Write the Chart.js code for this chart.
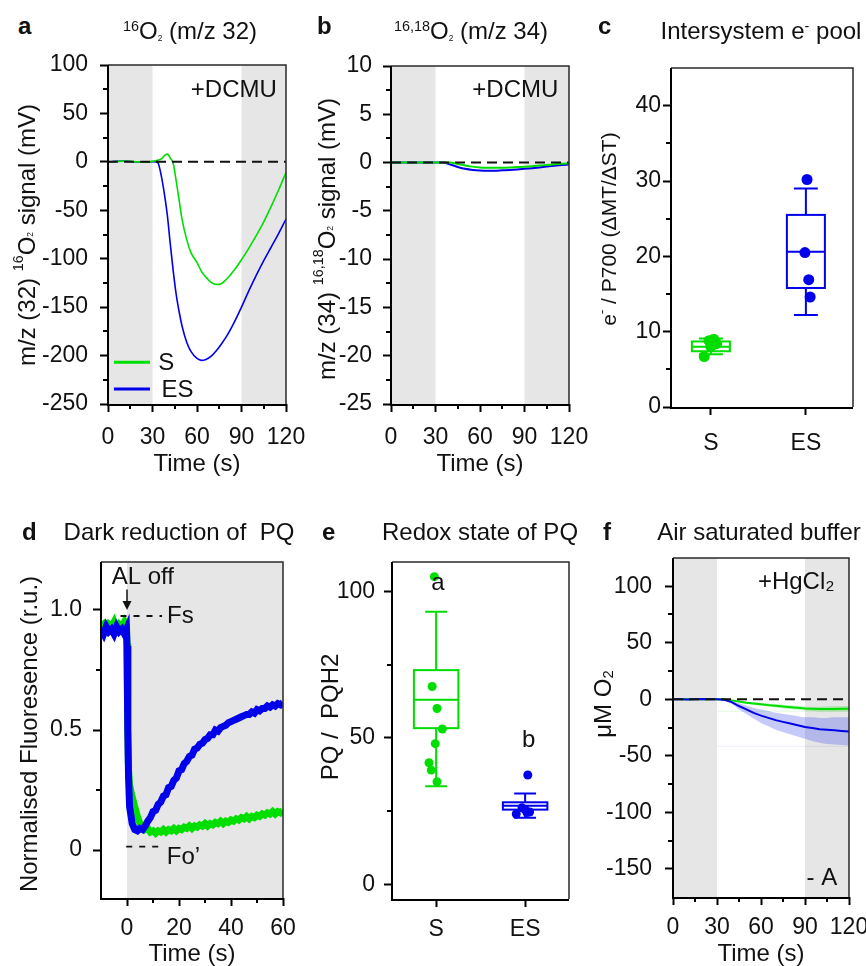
<!DOCTYPE html>
<html>
<head>
<meta charset="utf-8">
<title>PQ pool figure</title>
<script src="https://cdn.jsdelivr.net/npm/chart.js@4.4.1/dist/chart.umd.min.js"></script>
<style>
  html, body { margin: 0; padding: 0; background: #fff; overflow: hidden; }
  #fig { position: relative; width: 866px; height: 966px; font-family: "Liberation Sans", Arial, sans-serif; color: #111; }
  #fig canvas { position: absolute; }
  .letter { position: absolute; font-weight: bold; font-size: 24px; line-height: 28px; }
  .title { position: absolute; font-size: 24px; line-height: 28px; white-space: nowrap; transform: translateX(-50%); }
  .title .sup { font-size: 0.6em; vertical-align: 0.55em; }
  .title .tiny { font-size: 0.35em; vertical-align: -0.2em; }
</style>
</head>
<body>
<div id="fig">
  <canvas id="pa" width="320" height="440" style="left:0;top:40px"></canvas>
  <canvas id="pb" width="300" height="440" style="left:290px;top:40px"></canvas>
  <canvas id="pc" width="286" height="440" style="left:580px;top:40px"></canvas>
  <canvas id="pd" width="310" height="450" style="left:0;top:520px"></canvas>
  <canvas id="pe" width="290" height="450" style="left:290px;top:520px"></canvas>
  <canvas id="pf" width="286" height="450" style="left:580px;top:520px"></canvas>

  <div class="letter" style="left:18px;top:12px">a</div>
  <div class="title" style="left:190px;top:12px"><span class="sup">16</span>O<span class="tiny">2</span> (m/z 32)</div>
  <div class="letter" style="left:317px;top:12px">b</div>
  <div class="title" style="left:471px;top:12px"><span class="sup">16,18</span>O<span class="tiny">2</span> (m/z 34)</div>
  <div class="letter" style="left:598px;top:12px">c</div>
  <div class="title" style="left:761px;top:12px">Intersystem e<span class="sup">-</span> pool</div>
  <div class="letter" style="left:22px;top:518px">d</div>
  <div class="title" style="left:179px;top:518px">Dark reduction of&nbsp; PQ</div>
  <div class="letter" style="left:322px;top:518px">e</div>
  <div class="title" style="left:480px;top:518px">Redox state of PQ</div>
  <div class="letter" style="left:603px;top:518px">f</div>
  <div class="title" style="left:759px;top:518px">Air saturated buffer</div>
</div>

<script>
// ---------- a: 16O2 (m/z 32), mV ----------
const aTime = [0, 5, 10, 15, 20, 25, 30, 33, 34, 36, 38, 40, 42, 44, 46, 48, 50, 53, 56, 60, 63, 66, 70, 73, 76, 80, 85, 90, 95, 100, 105, 110, 115, 120];
const aS    = [0, 0.3, 0.8, 0.5, 0, -0.3, 0.5, 1.5, 2, 3, 6.5, 8, 4, -2, -20, -40, -60, -80, -94, -104, -113, -119, -125, -126.5, -126, -121, -112, -101, -89, -76, -62, -46, -29, -11];
const aES   = [0, 0.5, 0.8, 0.3, -0.2, -0.4, 0.2, 0, -2, -15, -33, -55, -85, -113, -137, -155, -170, -186, -196, -203, -205, -204, -200, -195, -189, -180, -166, -150, -133, -117, -102, -88, -74, -59];

// ---------- b: 16,18O2 (m/z 34), mV ----------
const bTime = [0, 10, 20, 30, 35, 40, 45, 50, 55, 60, 65, 70, 75, 80, 85, 90, 95, 100, 105, 110, 115, 120];
const bS    = [0, 0, 0, 0, 0, 0, -0.15, -0.3, -0.42, -0.5, -0.53, -0.54, -0.53, -0.5, -0.46, -0.42, -0.37, -0.31, -0.25, -0.18, -0.12, -0.07];
const bES   = [0, 0, 0, 0, 0, -0.2, -0.45, -0.65, -0.77, -0.83, -0.85, -0.84, -0.8, -0.76, -0.71, -0.65, -0.58, -0.5, -0.42, -0.34, -0.26, -0.19];

// ---------- c: intersystem e- pool ----------
const cCats   = ['S', 'ES'];
const cPtsS   = [6.7, 8.8, 9.0, 8.4, 8.0];
const cPtsES  = [30.2, 20.5, 16.9, 14.6];
const cLow    = [7.0, 12.2];
const cQ1     = [7.4, 15.8];
const cMed    = [8.0, 20.6];
const cQ3     = [8.7, 25.5];
const cHigh   = [9.1, 29.0];

// ---------- d: dark reduction of PQ ----------
const dTime = [-10, -9, -8, -7, -6, -5, -4, -3, -2, -1, -0.2, 0, 0.3, 0.6, 1, 2, 3, 4, 5, 6, 7, 8, 9, 10,
  11, 12, 13, 14, 15, 16, 17, 18, 19, 20, 21, 22, 23, 24, 25, 26, 27, 28, 29, 30,
  31, 32, 33, 34, 35, 36, 37, 38, 39, 40, 41, 42, 43, 44, 45, 46, 47, 48, 49, 50,
  51, 52, 53, 54, 55, 56, 57, 58, 59, 60];
const dES = [0.92, 0.90, 0.93, 0.91, 0.92, 0.90, 0.93, 0.91, 0.92, 0.90, 0.92, 0.85, 0.5, 0.3, 0.18, 0.11, 0.085, 0.08, 0.09, 0.085, 0.1, 0.12, 0.135, 0.16,
  0.165, 0.19, 0.2, 0.225, 0.23, 0.26, 0.265, 0.29, 0.3, 0.33, 0.335, 0.36, 0.37, 0.39, 0.395, 0.42, 0.425, 0.44, 0.445, 0.46,
  0.465, 0.48, 0.48, 0.5, 0.495, 0.51, 0.515, 0.52, 0.53, 0.535, 0.54, 0.545, 0.55, 0.555, 0.56, 0.565, 0.565, 0.575, 0.57, 0.585,
  0.58, 0.59, 0.59, 0.6, 0.595, 0.605, 0.6, 0.61, 0.605, 0.615];
const dS = [0.93, 0.94, 0.92, 0.94, 0.93, 0.95, 0.92, 0.94, 0.93, 0.95, 0.93, 0.86, 0.5, 0.33, 0.27, 0.22, 0.18, 0.14, 0.11, 0.1, 0.085, 0.09, 0.075, 0.08,
  0.07, 0.08, 0.075, 0.085, 0.075, 0.085, 0.08, 0.09, 0.08, 0.09, 0.085, 0.095, 0.09, 0.1, 0.09, 0.1, 0.095, 0.105, 0.1, 0.11,
  0.1, 0.11, 0.105, 0.115, 0.11, 0.12, 0.11, 0.12, 0.115, 0.125, 0.12, 0.13, 0.125, 0.135, 0.13, 0.14, 0.13, 0.14, 0.135, 0.145,
  0.14, 0.15, 0.145, 0.155, 0.15, 0.16, 0.15, 0.16, 0.155, 0.165];

// ---------- e: redox state of PQ ----------
const eCats  = ['S', 'ES'];
const ePtsS  = [105, 67.5, 60, 53, 48, 41.5, 39, 35];
const ePtsES = [37.3, 26.1, 25.5, 24.7, 24, 24.5];
const eLow   = [33.5, 22.7];
const eQ1    = [53.3, 25.5];
const eMed   = [63, 26.8];
const eQ3    = [73.1, 28];
const eHigh  = [93, 31];

// ---------- f: air saturated buffer, uM O2 ----------
const fTime = [0, 5, 10, 15, 20, 25, 30, 35, 40, 45, 50, 55, 60, 65, 70, 75, 80, 85, 90, 95, 100, 105, 110, 115, 120];
const fES   = [0, 0, -0.3, 0, 0.2, 0, 0, -0.5, -2.5, -6, -9, -12, -14.5, -16.5, -18.5, -20, -21.5, -23, -24.5, -25.5, -26.5, -27, -27.5, -28, -28.5];
const fESHi = [0, 0, 0, 0, 0, 0, 0, -0.3, -1.5, -3.5, -5.5, -7.5, -9, -10.5, -12, -13, -14, -15, -16, -16, -16.5, -16.5, -16, -16, -16];
const fESLo = [0, 0, -0.5, 0, 0, 0, 0, -1, -4, -9, -13, -17, -21, -24, -27, -29, -31, -33, -35, -37, -38.5, -39.5, -40, -40.5, -41];
const fS    = [0, 0, 0, 0, 0, 0, 0, -0.3, -1, -2, -3, -3.8, -4.5, -5.2, -5.8, -6.4, -7, -7.6, -8.2, -8.5, -8.7, -8.7, -8.6, -8.5, -8.4];
const fSHi  = [0, 0, 0, 0, 0, 0, 0, 0, -0.5, -1.2, -2, -2.6, -3.2, -3.8, -4.3, -4.8, -5.3, -5.8, -6.4, -6.6, -6.6, -6.5, -6.3, -6.1, -6];
const fSLo  = [0, 0, 0, 0, 0, 0, 0, -0.6, -1.5, -2.8, -4, -5, -5.8, -6.6, -7.3, -8, -8.7, -9.4, -10, -10.4, -10.8, -10.9, -10.9, -10.9, -10.8];
const fFaintTime = [30, 120];
const fFaintS    = [-10.6, -10.6];
const fFaintES   = [-41.6, -41.6];

// ---------- ticks ----------
const timeTicks  = [0, 30, 60, 90, 120];
const timeMinor  = [15, 45, 75, 105];
const aYTicks = [-250, -200, -150, -100, -50, 0, 50, 100];
const aYMinor = [-225, -175, -125, -75, -25, 25, 75];
const bYTicks = [-25, -20, -15, -10, -5, 0, 5, 10];
const bYMinor = [-22.5, -17.5, -12.5, -7.5, -2.5, 2.5, 7.5];
const cYTicks = [0, 10, 20, 30, 40];
const cYMinor = [5, 15, 25, 35];
const dXTicks = [0, 20, 40, 60];
const dXMinor = [10, 30, 50];
const dYTicks = [0, 0.5, 1.0];
const dYMinor = [0.25, 0.75];
const eYTicks = [0, 50, 100];
const eYMinor = [25, 75];
const fYTicks = [-150, -100, -50, 0, 50, 100];
const fYMinor = [-125, -75, -25, 25, 75];

// ---------- styling ----------
const FONT = '"Liberation Sans", Arial, Helvetica, sans-serif';
const INK = '#111';
const GREEN = 'rgb(0, 222, 0)';
const BLUE = 'rgb(0, 0, 235)';
const SHADE = '#e6e6e6';

Chart.defaults.font.family = FONT;
Chart.defaults.color = INK;

const pts = (xs, ys) => xs.map((x, i) => ({ x, y: ys[i] }));

function line(xs, ys, color, width, extra) {
  return Object.assign({
    data: pts(xs, ys), borderColor: color, borderWidth: width, pointRadius: 0,
    fill: false, clip: 0, cubicInterpolationMode: 'monotone'
  }, extra || {});
}

function axis(o) {
  return {
    type: 'linear', min: o.min, max: o.max,
    afterBuildTicks: s => { s.ticks = o.ticks.map(v => ({ value: v })); },
    afterFit: s => {
      if (s.isHorizontal()) s.height = o.size; else s.width = o.size;
      s.paddingLeft = s.paddingRight = s.paddingTop = s.paddingBottom = 0;
    },
    ticks: {
      autoSkip: false, maxRotation: 0, minRotation: 0, padding: o.pad, color: INK,
      font: { size: 23 }, callback: o.fmt || (v => String(v))
    },
    grid: { drawOnChartArea: false, drawTicks: true, tickLength: 8, tickWidth: 2, tickColor: '#000' },
    border: { display: false },
    title: o.title
      ? { display: true, text: o.title, color: INK, font: { size: 24 }, padding: { top: 0, bottom: o.titlePad || 0 } }
      : { display: false }
  };
}

function drawRich(ctx, segs, size, cx, cy) {
  const spec = { '': [1, 0], sup: [0.6, -0.38], tiny: [0.35, 0.1], low: [0.62, 0.22] };
  ctx.save();
  ctx.translate(cx, cy);
  ctx.rotate(-Math.PI / 2);
  ctx.textBaseline = 'middle';
  ctx.textAlign = 'left';
  ctx.fillStyle = INK;
  const parts = segs.map(([t, k]) => {
    const [f, dy] = spec[k || ''];
    ctx.font = (size * f) + 'px ' + FONT;
    return { t, f, dy, w: ctx.measureText(t).width };
  });
  let xx = -parts.reduce((s, p) => s + p.w, 0) / 2;
  parts.forEach(p => {
    ctx.font = (size * p.f) + 'px ' + FONT;
    ctx.fillText(p.t, xx, p.dy * size);
    xx += p.w;
  });
  ctx.restore();
}

function drawBox(ctx, x, y, b) {
  const cx = x.getPixelForValue(b.at);
  const hw = x.getPixelForValue(b.at + b.half) - cx;
  const cw = x.getPixelForValue(b.at + b.cap) - cx;
  const py = v => y.getPixelForValue(v);
  ctx.strokeStyle = b.color;
  ctx.lineWidth = 2;
  ctx.strokeRect(cx - hw, py(b.q3), 2 * hw, py(b.q1) - py(b.q3));
  ctx.beginPath();
  ctx.moveTo(cx - hw, py(b.med)); ctx.lineTo(cx + hw, py(b.med));
  ctx.moveTo(cx, py(b.q3)); ctx.lineTo(cx, py(b.high));
  ctx.moveTo(cx - cw, py(b.high)); ctx.lineTo(cx + cw, py(b.high));
  ctx.moveTo(cx, py(b.q1)); ctx.lineTo(cx, py(b.low));
  ctx.moveTo(cx - cw, py(b.low)); ctx.lineTo(cx + cw, py(b.low));
  ctx.stroke();
}

function deco(d) {
  return {
    id: 'deco',
    beforeDatasetsDraw(chart) {
      const { ctx, chartArea: ca, scales: { x, y } } = chart;
      ctx.save();
      ctx.fillStyle = SHADE;
      (d.shade || []).forEach(([a, b]) => {
        const x0 = Math.max(ca.left, x.getPixelForValue(a));
        const x1 = Math.min(ca.right, x.getPixelForValue(b));
        ctx.fillRect(x0, ca.top, x1 - x0, ca.bottom - ca.top);
      });
      (d.boxes || []).forEach(b => drawBox(ctx, x, y, b));
      ctx.restore();
    },
    afterDatasetsDraw(chart) {
      const { ctx, scales: { x, y } } = chart;
      ctx.save();
      ctx.strokeStyle = INK;
      (d.dashes || []).forEach(k => {
        ctx.lineWidth = k.width || 2;
        ctx.setLineDash(k.dash || [10, 6]);
        ctx.beginPath();
        ctx.moveTo(x.getPixelForValue(k.x0), y.getPixelForValue(k.y));
        ctx.lineTo(x.getPixelForValue(k.x1), y.getPixelForValue(k.y));
        ctx.stroke();
      });
      ctx.restore();
    },
    afterDraw(chart) {
      const { ctx, chartArea: ca, scales: { x, y } } = chart;
      ctx.save();
      // frame
      ctx.strokeStyle = '#2a2a2a'; ctx.lineWidth = 1.5;
      ctx.beginPath();
      ctx.moveTo(ca.left, ca.top); ctx.lineTo(ca.right, ca.top); ctx.lineTo(ca.right, ca.bottom);
      ctx.stroke();
      ctx.strokeStyle = '#000'; ctx.lineWidth = 2;
      ctx.beginPath();
      ctx.moveTo(ca.left, ca.top); ctx.lineTo(ca.left, ca.bottom + 1); ctx.lineTo(ca.right, ca.bottom + 1);
      ctx.stroke();
      // minor ticks
      ctx.beginPath();
      (d.minorX || []).forEach(v => {
        const px = Math.round(x.getPixelForValue(v));
        ctx.moveTo(px, ca.bottom); ctx.lineTo(px, ca.bottom + 5);
      });
      (d.minorY || []).forEach(v => {
        const py = Math.round(y.getPixelForValue(v));
        ctx.moveTo(ca.left - 5, py); ctx.lineTo(ca.left, py);
      });
      ctx.stroke();
      // key lines
      (d.keys || []).forEach(k => {
        ctx.strokeStyle = k.color; ctx.lineWidth = 3;
        ctx.beginPath();
        ctx.moveTo(x.getPixelForValue(k.x0), y.getPixelForValue(k.y));
        ctx.lineTo(x.getPixelForValue(k.x1), y.getPixelForValue(k.y));
        ctx.stroke();
      });
      // arrow
      if (d.arrow) {
        const ax = x.getPixelForValue(d.arrow.x);
        const y0 = y.getPixelForValue(d.arrow.y0), y1 = y.getPixelForValue(d.arrow.y1);
        ctx.strokeStyle = INK; ctx.fillStyle = INK; ctx.lineWidth = 1.5;
        ctx.beginPath(); ctx.moveTo(ax, y0); ctx.lineTo(ax, y1 - 6); ctx.stroke();
        ctx.beginPath(); ctx.moveTo(ax - 4.5, y1 - 9); ctx.lineTo(ax + 4.5, y1 - 9); ctx.lineTo(ax, y1); ctx.closePath(); ctx.fill();
      }
      // texts
      ctx.fillStyle = INK;
      ctx.textBaseline = 'middle';
      (d.texts || []).forEach(t => {
        ctx.font = (t.size || 24) + 'px ' + FONT;
        ctx.textAlign = t.align || 'left';
        ctx.fillText(t.text, x.getPixelForValue(t.x), y.getPixelForValue(t.y));
      });
      // y-axis title
      if (d.yTitle) drawRich(ctx, d.yTitle.segs, d.yTitle.size || 24, d.yTitle.cx, d.yTitle.cy);
      ctx.restore();
    }
  };
}

function panel(id, cfg) {
  return new Chart(document.getElementById(id), {
    type: cfg.type || 'line',
    data: { datasets: cfg.datasets },
    options: {
      responsive: false, animation: false, events: [],
      layout: { padding: { top: cfg.padTop, right: cfg.padRight, left: 0, bottom: 0 } },
      plugins: { legend: { display: false }, tooltip: { enabled: false } },
      scales: { x: cfg.x, y: cfg.y }
    },
    plugins: [deco(cfg.deco)]
  });
}

function boxes(low, q1, med, q3, high, colors, half, cap) {
  return low.map((_, i) => ({ at: i, low: low[i], q1: q1[i], med: med[i], q3: q3[i], high: high[i], color: colors[i], half, cap }));
}

// point placement offsets inside each category (visual spread)
const cSpreadS = [-0.07, -0.02, 0.03, 0.06, 0.0];
const cSpreadES = [0.012, -0.01, 0.03, 0.045];
const eSpreadS = [-0.02, -0.045, 0.01, 0.07, -0.01, -0.08, -0.055, 0.01];
const eSpreadES = [0.03, -0.035, 0.0, 0.05, -0.1, 0.02];

function catPoints(vals, at, spread, color, r) {
  return {
    data: vals.map((v, i) => ({ x: at + spread[i], y: v })),
    backgroundColor: color, borderWidth: 0, pointRadius: r, showLine: false, clip: false
  };
}

// ---------- a ----------
panel('pa', {
  padTop: 25, padRight: 34,
  datasets: [line(aTime, aS, GREEN, 1.6), line(aTime, aES, BLUE, 1.6)],
  x: axis({ min: 0, max: 120, ticks: timeTicks, size: 76, pad: 12, title: 'Time (s)', titlePad: 1 }),
  y: axis({ min: -250, max: 100, ticks: aYTicks, size: 108, pad: 12 }),
  deco: {
    shade: [[0, 30], [90, 120]],
    dashes: [{ x0: 0, x1: 120, y: 0 }],
    minorX: timeMinor, minorY: aYMinor,
    keys: [{ x0: 4, x1: 28.3, y: -207, color: GREEN }, { x0: 4, x1: 28.3, y: -234.5, color: BLUE }],
    texts: [
      { x: 113.8, y: 74.3, text: '+DCMU', align: 'right' },
      { x: 33.9, y: -208, text: 'S' },
      { x: 36, y: -236, text: 'ES' }
    ],
    yTitle: { segs: [['m/z (32) '], ['16', 'sup'], ['O'], ['2', 'tiny'], [' signal (mV)']], cx: 28, cy: 195 }
  }
});

// ---------- b ----------
panel('pb', {
  padTop: 26, padRight: 21,
  datasets: [line(bTime, bS, GREEN, 2), line(bTime, bES, BLUE, 2)],
  x: axis({ min: 0, max: 120, ticks: timeTicks, size: 76, pad: 12, title: 'Time (s)', titlePad: 1 }),
  y: axis({ min: -25, max: 10, ticks: bYTicks, size: 101, pad: 11 }),
  deco: {
    shade: [[0, 30], [90, 120]],
    dashes: [{ x0: 0, x1: 120, y: 0 }],
    minorX: timeMinor, minorY: bYMinor,
    texts: [{ x: 112.8, y: 7.5, text: '+DCMU', align: 'right' }],
    yTitle: { segs: [['m/z (34) '], ['16,18', 'sup'], ['O'], ['2', 'tiny'], [' signal (mV)']], cx: 38, cy: 199 }
  }
});

// ---------- c ----------
panel('pc', {
  type: 'scatter', padTop: 28, padRight: 13,
  datasets: [catPoints(cPtsS, 0, cSpreadS, GREEN, 5.5), catPoints(cPtsES, 1, cSpreadES, BLUE, 5.5)],
  x: axis({ min: -0.42, max: 1.496, ticks: [0, 1], size: 73, pad: 15, fmt: (v, i) => cCats[i] }),
  y: axis({ min: 0, max: 45, ticks: cYTicks, size: 91, pad: 2 }),
  deco: {
    boxes: boxes(cLow, cQ1, cMed, cQ3, cHigh, [GREEN, BLUE], 0.2, 0.126),
    minorY: cYMinor,
    yTitle: { segs: [['e'], ['-', 'sup'], [' / P700 (ΔMT/ΔST)']], size: 21, cx: 30, cy: 189 }
  }
});

// ---------- d ----------
panel('pd', {
  padTop: 42, padRight: 27,
  datasets: [
    line(dTime, dES, BLUE, 7, { cubicInterpolationMode: 'default' }),
    line(dTime, dS, GREEN, 7, { cubicInterpolationMode: 'default' })
  ],
  x: axis({ min: -10, max: 60, ticks: dXTicks, size: 72, pad: 9, title: 'Time (s)', titlePad: 1 }),
  y: axis({ min: -0.2, max: 1.2, ticks: dYTicks, size: 101, pad: 11, fmt: v => (v === 0 ? '0' : v.toFixed(1)) }),
  deco: {
    shade: [[0, 60]],
    dashes: [
      { x0: -2.5, x1: 13.5, y: 0.975, dash: [6, 7], width: 1.8 },
      { x0: -0.3, x1: 13.5, y: 0.014, dash: [6, 7], width: 1.8 }
    ],
    minorX: dXMinor, minorY: dYMinor,
    arrow: { x: 0, y0: 1.085, y1: 1.0 },
    texts: [
      { x: 6.1, y: 1.138, text: 'AL off', align: 'center' },
      { x: 15.4, y: 0.975, text: 'Fs' },
      { x: 15.3, y: -0.03, text: 'Fo\u2019' }
    ],
    yTitle: { segs: [['Normalised Fluoresence (r.u.)']], cx: 30, cy: 214 }
  }
});

// ---------- e ----------
panel('pe', {
  type: 'scatter', padTop: 42, padRight: 11,
  datasets: [catPoints(ePtsS, 0, eSpreadS, GREEN, 4.5), catPoints(ePtsES, 1, eSpreadES, BLUE, 4.5)],
  x: axis({ min: -0.496, max: 1.493, ticks: [0, 1], size: 71, pad: 9, fmt: (v, i) => eCats[i] }),
  y: axis({ min: -5, max: 110, ticks: eYTicks, size: 102, pad: 9 }),
  deco: {
    boxes: boxes(eLow, eQ1, eMed, eQ3, eHigh, [GREEN, BLUE], 0.25, 0.123),
    minorY: eYMinor,
    texts: [
      { x: 0.02, y: 102.8, text: 'a', align: 'center' },
      { x: 1.04, y: 49, text: 'b', align: 'center' }
    ],
    yTitle: { segs: [['PQ /  PQH2']], cx: 41, cy: 197 }
  }
});

// ---------- f ----------
panel('pf', {
  padTop: 38, padRight: 17,
  datasets: [
    line(fTime, fES, BLUE, 2, { cubicInterpolationMode: 'default' }),
    line(fTime, fS, GREEN, 2, { cubicInterpolationMode: 'default' }),
    line(fTime, fESHi, 'rgba(0,0,0,0)', 0, { fill: '+1', backgroundColor: 'rgba(40, 60, 240, 0.27)' }),
    line(fTime, fESLo, 'rgba(0,0,0,0)', 0),
    line(fTime, fSHi, 'rgba(0,0,0,0)', 0, { fill: '+1', backgroundColor: 'rgba(0, 220, 0, 0.25)' }),
    line(fTime, fSLo, 'rgba(0,0,0,0)', 0),
    line(fFaintTime, fFaintS, 'rgba(0, 200, 0, 0.12)', 1),
    line(fFaintTime, fFaintES, 'rgba(40, 60, 240, 0.1)', 1)
  ],
  x: axis({ min: 0, max: 120, ticks: timeTicks, size: 73, pad: 9, title: 'Time (s)', titlePad: 1 }),
  y: axis({ min: -175, max: 125, ticks: fYTicks, size: 93, pad: 13 }),
  deco: {
    shade: [[0, 30], [90, 120]],
    dashes: [{ x0: 0, x1: 120, y: 0 }],
    minorX: timeMinor, minorY: fYMinor,
    texts: [
      { x: 57.9, y: 103.8, text: '+HgCl\u2082' },
      { x: 91, y: -158.4, text: '- A' }
    ],
    yTitle: { segs: [['\u03bcM O'], ['2', 'low']], cx: 24, cy: 184 }
  }
});
</script>
</body>
</html>
